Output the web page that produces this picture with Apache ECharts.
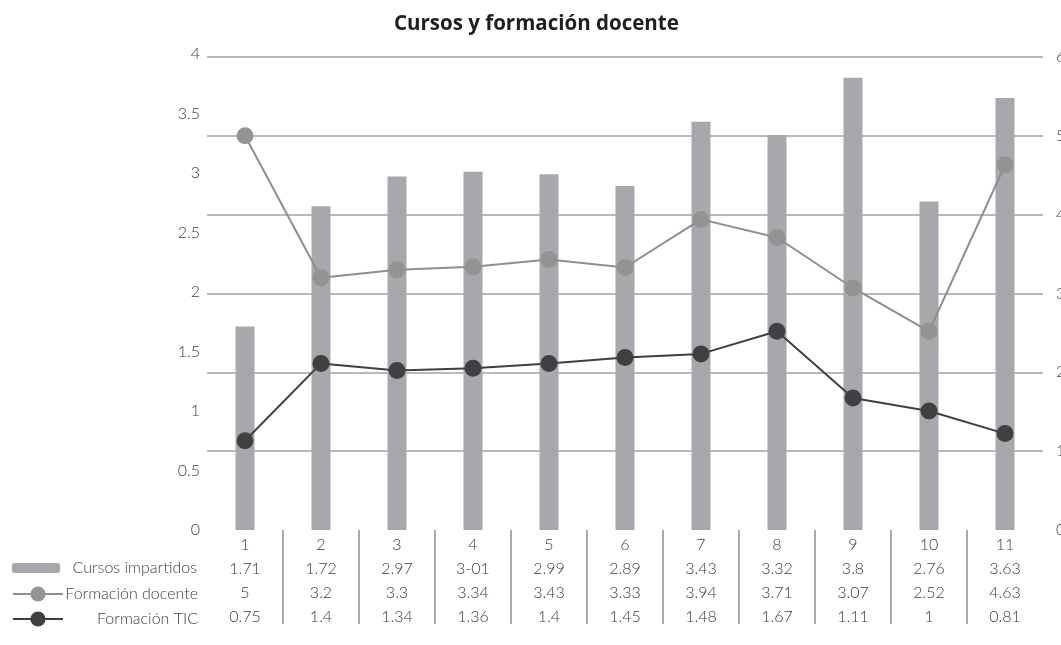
<!DOCTYPE html>
<html><head><meta charset="utf-8">
<script src="https://cdn.jsdelivr.net/npm/echarts@6/dist/echarts.min.js"></script>
<style>html,body{margin:0;padding:0;background:#fff}#c{width:1061px;height:645px}</style>
</head><body><div id="c"></div>
<script>
const categories = ['1','2','3','4','5','6','7','8','9','10','11'];
const cursos = [1.71, 2.72, 2.97, 3.01, 2.99, 2.89, 3.43, 3.32, 3.8, 2.76, 3.63];
const docente = [5, 3.2, 3.3, 3.34, 3.43, 3.33, 3.94, 3.71, 3.07, 2.52, 4.63];
const tic = [0.75, 1.4, 1.34, 1.36, 1.4, 1.45, 1.48, 1.67, 1.11, 1, 0.81];
const cursosText = ['1.71','1.72','2.97','3-01','2.99','2.89','3.43','3.32','3.8','2.76','3.63'];
const docenteText = ['5','3.2','3.3','3.34','3.43','3.33','3.94','3.71','3.07','2.52','4.63'];
const ticText = ['0.75','1.4','1.34','1.36','1.4','1.45','1.48','1.67','1.11','1','0.81'];
const separators = categories.slice(1);

const FONT = 'Lato';
const TXT = '#3c3c3c';
const FS = 16;
const L = 207, R = 18, BOTTOM = 115;
const band = (1061 - L - R) / categories.length;

function legendFor(name, top, iw, ih) {
  return {
    data: [name], left: 7, top: top, orient: 'vertical',
    itemWidth: iw, itemHeight: ih,
    formatter: n => '{t|' + n + '}',
    textStyle: {fontFamily: FONT, fontWeight: 300, fontSize: FS, color: TXT,
      rich: {t: {width: 130 - (iw - 50), align: 'right', fontFamily: FONT, fontWeight: 300, fontSize: FS, color: TXT}}}
  };
}

const chart = echarts.init(document.getElementById('c'), null, {renderer: 'canvas'});
chart.setOption({
  animation: false,
  textStyle: {fontFamily: FONT, fontWeight: 300, color: TXT},
  title: {
    text: 'Cursos y formación docente', left: 389, top: 9,
    textStyle: {fontFamily: 'Open Sans', fontWeight: 'bold', fontSize: 20.5, color: '#1e1e1e'}
  },
  legend: [
    legendFor('Cursos impartidos', 555, 48, 10),
    legendFor('Formación docente', 581, 50, 19),
    legendFor('Formación TIC', 606, 50, 19)
  ],
  grid: [
    {left: L, right: R, top: 54, bottom: BOTTOM, outerBoundsMode: 'none', containLabel: false},
    {left: L, right: R, top: 57, bottom: BOTTOM, outerBoundsMode: 'none', containLabel: false},
    {left: L + band, right: R + band, top: 57, bottom: BOTTOM, outerBoundsMode: 'none', containLabel: false}
  ],
  xAxis: [
    {
      type: 'category', gridIndex: 0, data: categories,
      axisLine: {show: false}, axisTick: {show: false},
      axisLabel: {
        interval: 0, margin: 3, lineHeight: 24, fontSize: FS, color: TXT,
        fontFamily: FONT, fontWeight: 300,
        formatter: (v, i) => [v, cursosText[i], docenteText[i], ticText[i]].join('\n')
      }
    },
    {
      type: 'category', gridIndex: 1, data: categories, show: false
    },
    {
      type: 'category', gridIndex: 2, data: separators, boundaryGap: false, offset: 3,
      axisLine: {show: false}, axisLabel: {show: false},
      axisTick: {show: true, interval: 0, length: 94, lineStyle: {color: '#aaaaac', width: 2}}
    }
  ],
  yAxis: [
    {
      type: 'value', gridIndex: 0, position: 'left', min: 0, max: 4, interval: 0.5,
      splitLine: {show: false}, axisLine: {show: false}, axisTick: {show: false},
      axisLabel: {margin: 7, fontSize: FS, color: TXT, fontFamily: FONT, fontWeight: 300}
    },
    {
      type: 'value', gridIndex: 1, position: 'right', min: 0, max: 6, interval: 1,
      splitLine: {show: true, showMinLine: false, lineStyle: {color: '#b9b9bb', width: 2}},
      axisLine: {show: false}, axisTick: {show: false},
      axisLabel: {margin: 13, fontSize: FS, color: TXT, fontFamily: FONT, fontWeight: 300}
    },
    {type: 'value', gridIndex: 2, show: false}
  ],
  series: [
    {
      name: 'Cursos impartidos', type: 'bar', xAxisIndex: 0, yAxisIndex: 0,
      data: cursos, barWidth: 19, itemStyle: {color: '#a7a8ab'}
    },
    {
      name: 'Formación docente', type: 'line', xAxisIndex: 1, yAxisIndex: 1,
      data: docente, symbol: 'circle', symbolSize: 17, z: 3,
      lineStyle: {color: '#8e8e8e', width: 2}, itemStyle: {color: '#939393'}
    },
    {
      name: 'Formación TIC', type: 'line', xAxisIndex: 0, yAxisIndex: 0,
      data: tic, symbol: 'circle', symbolSize: 17, z: 4,
      lineStyle: {color: '#3f3f42', width: 2}, itemStyle: {color: '#404043'}
    }
  ]
});
</script>
</body></html>
